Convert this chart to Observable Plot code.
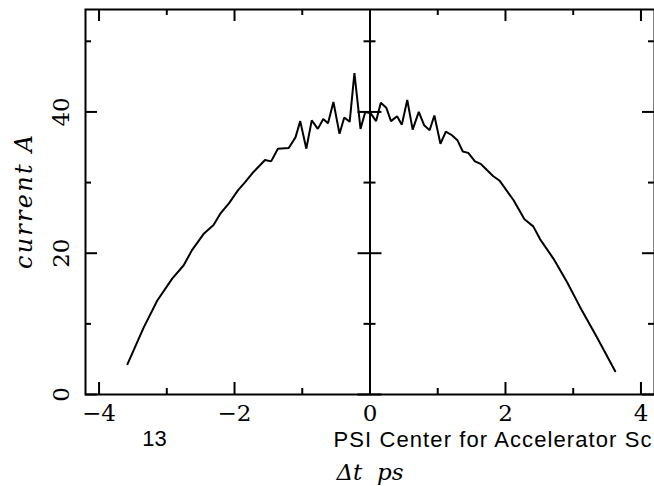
<!DOCTYPE html>
<html>
<head>
<meta charset="utf-8">
<script src="https://cdn.jsdelivr.net/npm/d3@7"></script>
<script src="https://cdn.jsdelivr.net/npm/@observablehq/plot@0.6"></script>
<style>
  html, body { margin: 0; padding: 0; background: #fff; overflow: hidden; width: 654px; height: 486px; }
</style>
</head>
<body>
<div id="chart"></div>
<script>
// Data
const dt = [-3.58,-3.34,-3.14,-2.92,-2.75,-2.63,-2.45,-2.31,-2.21,-2.08,-1.95,-1.84,-1.72,-1.55,-1.46,-1.36,-1.20,-1.10,-1.03,-0.94,-0.86,-0.77,-0.69,-0.62,-0.54,-0.45,-0.38,-0.30,-0.23,-0.14,-0.07,0.01,0.09,0.16,0.24,0.31,0.40,0.47,0.55,0.63,0.72,0.80,0.88,0.95,1.04,1.12,1.21,1.29,1.37,1.45,1.55,1.64,1.82,1.91,2.12,2.28,2.41,2.51,2.71,2.91,3.10,3.35,3.62];
const current = [4.3,9.5,13.3,16.4,18.3,20.4,22.8,24.0,25.6,27.1,28.9,30.1,31.5,33.2,33.0,34.8,34.9,36.4,38.7,34.8,38.8,37.6,39.0,38.4,41.4,36.9,39.2,38.6,45.5,37.6,40.0,39.8,38.7,41.3,40.6,38.7,39.4,38.2,41.7,37.5,40.0,38.1,37.4,39.5,35.5,37.2,36.7,36.0,34.4,34.2,33.0,32.6,30.9,30.3,27.5,24.8,23.8,22.0,19.2,15.9,12.4,8.1,3.3];

const xDomain = [-4.2, 4.2];
const yDomain = [0, 54.5];
const xMajor = [-4, -2, 0, 2, 4];
const xMinor = [-3, -1, 1, 3];
const yMajor = [0, 20, 40];
const yMinor = [10, 30, 50];
const xLabels = ["\u22124", "\u22122", "0", "2", "4"];
const yLabels = ["0", "20", "40"];
const xTitle = "\u0394t  ps";
const yTitle = "current A";
const footerPage = "13";
const footerText = "PSI Center for Accelerator Sc";

const table = dt.map((d, i) => ({dt: d, current: current[i]}));

const serif = "DejaVu Serif";
const tickW = 2;

const chart = Plot.plot({
  width: 654,
  height: 486,
  marginLeft: 85,
  marginRight: 0,
  marginTop: 9,
  marginBottom: 92,
  style: {background: "white", fontFamily: serif, color: "black"},
  x: {domain: xDomain, axis: null},
  y: {domain: yDomain, axis: null},
  marks: [
    Plot.frame({stroke: "black", strokeWidth: 2}),
    Plot.ruleX([0], {stroke: "black", strokeWidth: 2}),
    // bottom ticks
    Plot.ruleX(xMajor, {x: d => d, y1: yDomain[0], y2: yDomain[0], insetTop: -12, stroke: "black", strokeWidth: tickW}),
    Plot.ruleX(xMinor, {x: d => d, y1: yDomain[0], y2: yDomain[0], insetTop: -6, stroke: "black", strokeWidth: tickW}),
    // top ticks
    Plot.ruleX(xMajor, {x: d => d, y1: yDomain[1], y2: yDomain[1], insetBottom: -12, stroke: "black", strokeWidth: tickW}),
    Plot.ruleX(xMinor, {x: d => d, y1: yDomain[1], y2: yDomain[1], insetBottom: -6, stroke: "black", strokeWidth: tickW}),
    // left ticks
    Plot.ruleY(yMajor, {y: d => d, x1: xDomain[0], x2: xDomain[0], insetRight: -12, stroke: "black", strokeWidth: tickW}),
    Plot.ruleY(yMinor, {y: d => d, x1: xDomain[0], x2: xDomain[0], insetRight: -6, stroke: "black", strokeWidth: tickW}),
    // right ticks
    Plot.ruleY(yMajor, {y: d => d, x1: xDomain[1], x2: xDomain[1], insetLeft: -12, stroke: "black", strokeWidth: tickW}),
    Plot.ruleY(yMinor, {y: d => d, x1: xDomain[1], x2: xDomain[1], insetLeft: -6, stroke: "black", strokeWidth: tickW}),
    // ticks on the zero line
    Plot.ruleY(yMajor, {y: d => d, x1: 0, x2: 0, insetLeft: -12, insetRight: -12, stroke: "black", strokeWidth: tickW}),
    Plot.ruleY(yMinor, {y: d => d, x1: 0, x2: 0, insetLeft: -6, insetRight: -6, stroke: "black", strokeWidth: tickW}),
    // data
    Plot.line(table, {x: "dt", y: "current", stroke: "black", strokeWidth: 2, strokeLinejoin: "miter"}),
    // tick labels
    Plot.text(yMajor, {y: d => d, text: (d, i) => yLabels[i], frameAnchor: "left", textAnchor: "middle", dx: -24, rotate: -90, fontSize: 23, fill: "black"}),
    Plot.text(xMajor, {x: d => d, text: (d, i) => xLabels[i], frameAnchor: "bottom", textAnchor: "middle", dy: 26, fontSize: 23, fill: "black"}),
    // axis titles
    Plot.text([yTitle], {text: d => d, frameAnchor: "left", textAnchor: "middle", dx: -61, rotate: -90, fontSize: 24, fontStyle: "italic", fill: "black"}),
    Plot.text([xTitle], {text: d => d, frameAnchor: "bottom", textAnchor: "middle", dy: 85, fontSize: 23, fontStyle: "italic", fill: "black"}),
    // slide footer
    Plot.text([footerPage], {text: d => d, frameAnchor: "bottom-left", textAnchor: "middle", dx: 69, dy: 51, fontSize: 22, fontFamily: "Liberation Sans", fill: "black"}),
    Plot.text([footerText], {text: d => d, frameAnchor: "bottom-left", textAnchor: "start", dx: 248, dy: 52, fontSize: 22, fontFamily: "Liberation Sans", fill: "black"})
  ]
});

// widen a few texts to the spread seen in the reference
d3.select(chart).selectAll("text").each(function () {
  const t = this.textContent;
  if (t === footerText) {
    this.setAttribute("textLength", 318);
    this.setAttribute("lengthAdjust", "spacing");
  } else if (t === yTitle) {
    this.setAttribute("textLength", 134);
    this.setAttribute("lengthAdjust", "spacing");
  }
});

document.getElementById("chart").appendChild(chart);
</script>
</body>
</html>
